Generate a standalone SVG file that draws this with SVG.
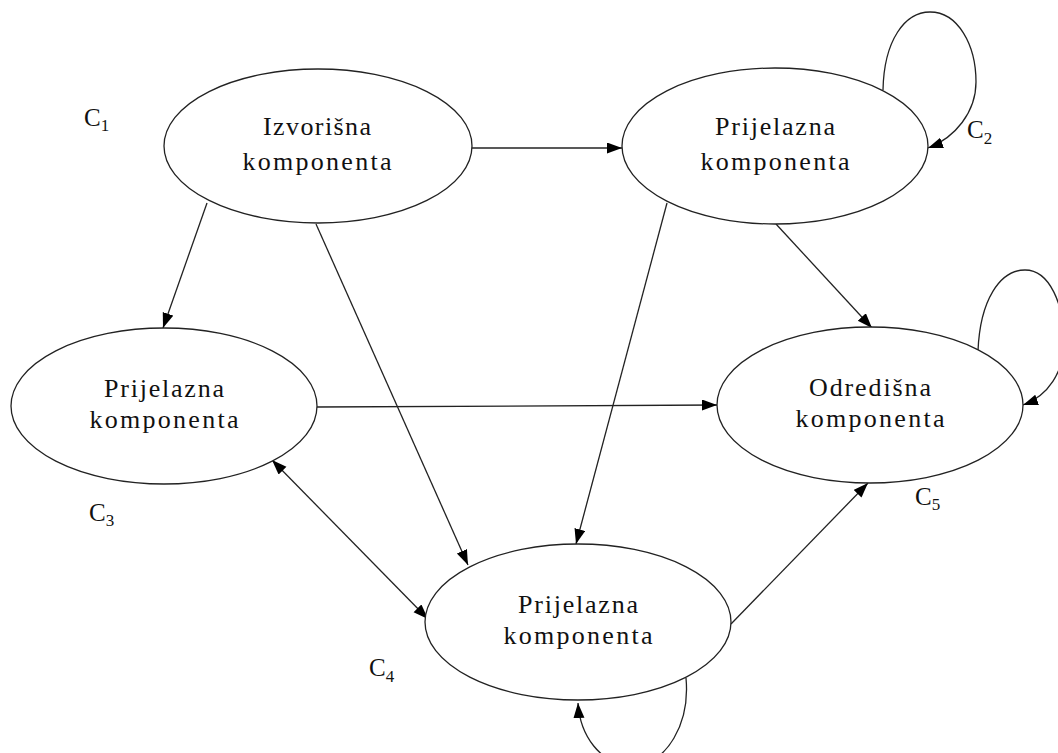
<svg xmlns="http://www.w3.org/2000/svg" width="1058" height="753" viewBox="0 0 1058 753">
<style>
.node ellipse{fill:#fff;stroke:#222;stroke-width:1.3}
.node text,.lbl{font-family:"Liberation Serif","Times New Roman",serif;font-size:26px;fill:#111;text-anchor:middle}
.lbl{text-anchor:start;font-size:25px}
.sub{font-size:17px}
#edges path{fill:none;stroke:#222;stroke-width:1.3}
</style>
<defs>
<marker id="ah" markerUnits="userSpaceOnUse" markerWidth="17" markerHeight="12" refX="15" refY="5.5" orient="auto-start-reverse" viewBox="0 0 17 12">
<path d="M0,0 L15,5.5 L0,11 z" fill="#000"/>
</marker>
</defs>
<rect width="1058" height="753" fill="#fff"/>
<g id="edges">
<path d="M470,148 L622,148" marker-end="url(#ah)"/>
<path d="M207,203 L163,328" marker-end="url(#ah)"/>
<path d="M316,224 L468,565" marker-end="url(#ah)"/>
<path d="M667,203 L576,544" marker-end="url(#ah)"/>
<path d="M776,224 L872,328" marker-end="url(#ah)"/>
<path d="M317,407 L717,405" marker-end="url(#ah)"/>
<path d="M272,460 L428,619" marker-start="url(#ah)" marker-end="url(#ah)"/>
<path d="M731,624 L868,483" marker-end="url(#ah)"/>
<path d="M883,90 C884,40 905,12 930,12 C958,12 976,45 976,82 C976,112 955,138 928,148" marker-end="url(#ah)"/>
<path d="M978,351 C980,300 1000,270 1025,270 C1050,270 1064,305 1064,342 C1064,372 1048,396 1023,405" marker-end="url(#ah)"/>
<path d="M686,678 C690,722 668,765 632,765 C600,765 580,735 578,703" marker-end="url(#ah)"/>
</g>
<g id="n1" class="node">
<ellipse cx="318" cy="146" rx="154" ry="77"/>
<text x="317" y="135" textLength="108" lengthAdjust="spacing">Izvorišna</text>
<text x="317" y="170" textLength="149" lengthAdjust="spacing">komponenta</text>
</g>
<g id="n2" class="node">
<ellipse cx="775" cy="146" rx="153" ry="78"/>
<text x="775" y="135" textLength="120" lengthAdjust="spacing">Prijelazna</text>
<text x="775" y="170" textLength="149" lengthAdjust="spacing">komponenta</text>
</g>
<g id="n3" class="node">
<ellipse cx="164" cy="406" rx="153" ry="78"/>
<text x="164" y="397" textLength="120" lengthAdjust="spacing">Prijelazna</text>
<text x="164" y="428" textLength="149" lengthAdjust="spacing">komponenta</text>
</g>
<g id="n4" class="node">
<ellipse cx="578" cy="622" rx="153" ry="78"/>
<text x="578" y="613" textLength="120" lengthAdjust="spacing">Prijelazna</text>
<text x="578" y="644" textLength="149" lengthAdjust="spacing">komponenta</text>
</g>
<g id="n5" class="node">
<ellipse cx="870" cy="405" rx="153" ry="78"/>
<text x="870" y="396" textLength="122" lengthAdjust="spacing">Odredišna</text>
<text x="870" y="427" textLength="149" lengthAdjust="spacing">komponenta</text>
</g>
<g id="labels">
<text class="lbl" x="84" y="126">C<tspan class="sub" dy="5">1</tspan></text>
<text class="lbl" x="967" y="138">C<tspan class="sub" dy="6">2</tspan></text>
<text class="lbl" x="89" y="521">C<tspan class="sub" dy="5">3</tspan></text>
<text class="lbl" x="369" y="676">C<tspan class="sub" dy="6">4</tspan></text>
<text class="lbl" x="915" y="505">C<tspan class="sub" dy="5">5</tspan></text>
</g>
</svg>
